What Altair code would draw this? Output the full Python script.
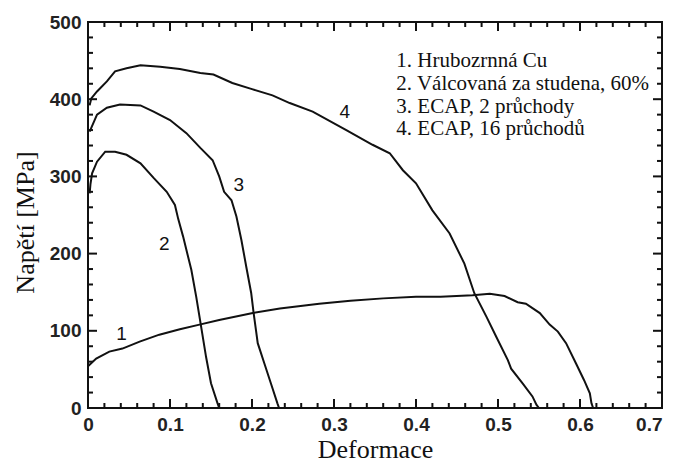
import altair as alt
import pandas as pd

# ---- data ----
# 1. Hrubozrnná Cu
c1_x = [0.0, 0.010, 0.026, 0.042, 0.063, 0.087, 0.112, 0.136, 0.160, 0.201, 0.234, 0.282,
        0.320, 0.360, 0.400, 0.430, 0.469, 0.490, 0.508, 0.524, 0.534, 0.551, 0.563, 0.573,
        0.583, 0.595, 0.605, 0.612, 0.614, 0.616]
c1_y = [54, 64, 73, 77, 86, 95, 102, 108, 114, 123, 129, 135,
        139, 142, 144, 144, 146, 148, 145, 137, 135, 123, 108, 99,
        84, 58, 36, 19, 6, 0]
# 2. Válcovaná za studena, 60%
c2_x = [0.002, 0.003, 0.005, 0.011, 0.021, 0.033, 0.047, 0.064, 0.080, 0.096, 0.106, 0.110,
        0.116, 0.126, 0.132, 0.138, 0.144, 0.150, 0.158, 0.160]
c2_y = [278, 290, 304, 319, 332, 332, 328, 317, 298, 280, 263, 245,
        222, 179, 144, 105, 66, 32, 6, 0]
# 3. ECAP, 2 průchody
c3_x = [0.002, 0.011, 0.023, 0.039, 0.064, 0.080, 0.100, 0.120, 0.137, 0.152, 0.160, 0.166,
        0.175, 0.181, 0.187, 0.193, 0.199, 0.202, 0.207, 0.215, 0.223, 0.231, 0.233]
c3_y = [358, 380, 389, 393, 392, 384, 373, 356, 337, 321, 300, 280,
        269, 248, 218, 183, 149, 123, 84, 58, 32, 6, 0]
# 4. ECAP, 16 průchodů
c4_x = [0.002, 0.004, 0.011, 0.023, 0.033, 0.047, 0.064, 0.088, 0.112, 0.137, 0.153, 0.176,
        0.200, 0.225, 0.246, 0.274, 0.315, 0.347, 0.368, 0.384, 0.400, 0.420, 0.441, 0.459,
        0.471, 0.486, 0.498, 0.512, 0.516, 0.530, 0.542, 0.547, 0.550]
c4_y = [392, 401, 410, 423, 436, 440, 444, 442, 439, 434, 432, 421,
        413, 405, 395, 384, 360, 341, 330, 308, 291, 256, 226, 187,
        149, 118, 92, 62, 51, 32, 15, 4, 0]

curve_ids = ["1", "2", "3", "4"]

# curve number labels
lab_text = ["1", "2", "3", "4"]
lab_x = [0.041, 0.093, 0.184, 0.313]
lab_y = [96, 213, 289, 384]

# legend text
leg_text = ["1. Hrubozrnná Cu", "2. Válcovaná za studena, 60%",
            "3. ECAP, 2 průchody", "4. ECAP, 16 průchodů"]
leg_x = [0.376, 0.376, 0.376, 0.376]
leg_y = [442, 412, 382, 354]

# axis ticks
x_major = [0.0, 0.1, 0.2, 0.3, 0.4, 0.5, 0.6, 0.7]
x_minor = [0.02, 0.04, 0.06, 0.08, 0.12, 0.14, 0.16, 0.18, 0.22, 0.24, 0.26, 0.28,
           0.32, 0.34, 0.36, 0.38, 0.42, 0.44, 0.46, 0.48, 0.52, 0.54, 0.56, 0.58,
           0.62, 0.64, 0.66, 0.68]
y_major = [0, 100, 200, 300, 400, 500]
y_minor = [20, 40, 60, 80, 120, 140, 160, 180, 220, 240, 260, 280,
           320, 340, 360, 380, 420, 440, 460, 480]

# ---- build ----
W, H = 574, 386
XMAX, YMAX = 0.7, 500
INK = "#111111"
MAJ, MIN = 9, 5  # tick lengths in px

xs_scale = alt.Scale(domain=[0, XMAX], nice=False, zero=False)
ys_scale = alt.Scale(domain=[0, YMAX], nice=False, zero=False)

common = dict(grid=False, labelFont="Liberation Sans", labelFontSize=19,
              labelFontWeight="bold", labelColor="#222222", labelFlush=False,
              labelOverlap=False, labelBound=False, titleFont="Liberation Serif",
              titleFontSize=26, titleFontWeight="normal", titleColor=INK)

x_axis = alt.Axis(values=x_major, format=".1~f", ticks=False, tickSize=0, domain=False,
                  labelPadding=7,
                  labelAlign={"condition": {"test": "datum.value >= 0.69", "value": "right"},
                              "value": "center"},
                  title="Deformace", titleX=287, titleY=49, titleAlign="center",
                  titleBaseline="alphabetic", **common)
y_axis = alt.Axis(values=y_major, format="d", ticks=False, tickSize=0, domain=False,
                  labelPadding=7, title="Napětí [MPa]", titleX=-63, titleY=200,
                  titleAngle=270, titleAlign="center", titleBaseline="middle", **common)


def X(field="x"):
    return alt.X(f"{field}:Q", scale=xs_scale, axis=x_axis)


def Y(field="y"):
    return alt.Y(f"{field}:Q", scale=ys_scale, axis=y_axis)


rows = []
for cid, xs, ys in zip(curve_ids, [c1_x, c2_x, c3_x, c4_x], [c1_y, c2_y, c3_y, c4_y]):
    for i, (a, b) in enumerate(zip(xs, ys)):
        rows.append({"curve": cid, "i": i, "x": a, "y": b})
curves = alt.Chart(pd.DataFrame(rows)).mark_line(color=INK, strokeWidth=2).encode(
    x=X(), y=Y(), detail="curve:N", order="i:Q"
)

# inward tick marks as short rules, lengths converted from px into data units
px_y = YMAX / H
px_x = XMAX / W
xr = []
for vals, ln in [(x_major, MAJ), (x_minor, MIN)]:
    for v in vals:
        xr.append({"x": v, "y": 0.0, "y2": ln * px_y})
        xr.append({"x": v, "y": float(YMAX), "y2": YMAX - ln * px_y})
yr = []
for vals, ln in [(y_major, MAJ), (y_minor, MIN)]:
    for v in vals:
        yr.append({"y": float(v), "x": 0.0, "x2": ln * px_x})
        yr.append({"y": float(v), "x": XMAX, "x2": XMAX - ln * px_x})

x_ticks = alt.Chart(pd.DataFrame(xr)).mark_rule(color=INK, strokeWidth=2).encode(
    x=X(), y=Y(), y2=alt.Y2("y2:Q"))
y_ticks = alt.Chart(pd.DataFrame(yr)).mark_rule(color=INK, strokeWidth=2).encode(
    y=Y(), x=X(), x2=alt.X2("x2:Q"))

labels = alt.Chart(pd.DataFrame({"x": lab_x, "y": lab_y, "t": lab_text})).mark_text(
    font="Liberation Sans", fontSize=19, color=INK, align="center", baseline="middle"
).encode(x=X(), y=Y(), text="t:N")

legend = alt.Chart(pd.DataFrame({"x": leg_x, "y": leg_y, "t": leg_text})).mark_text(
    font="Liberation Serif", fontSize=21, color=INK, align="left", baseline="alphabetic"
).encode(x=X(), y=Y(), text="t:N")

chart = alt.layer(curves, x_ticks, y_ticks, labels, legend).properties(
    width=W, height=H,
    autosize=alt.AutoSizeParams(type="none"),
    padding={"left": 80, "top": 14, "right": 4, "bottom": 52},
    background="white",
).configure_view(stroke=INK, strokeWidth=2)

chart.save("out.html", embed_options={"renderer": "svg", "actions": False})
